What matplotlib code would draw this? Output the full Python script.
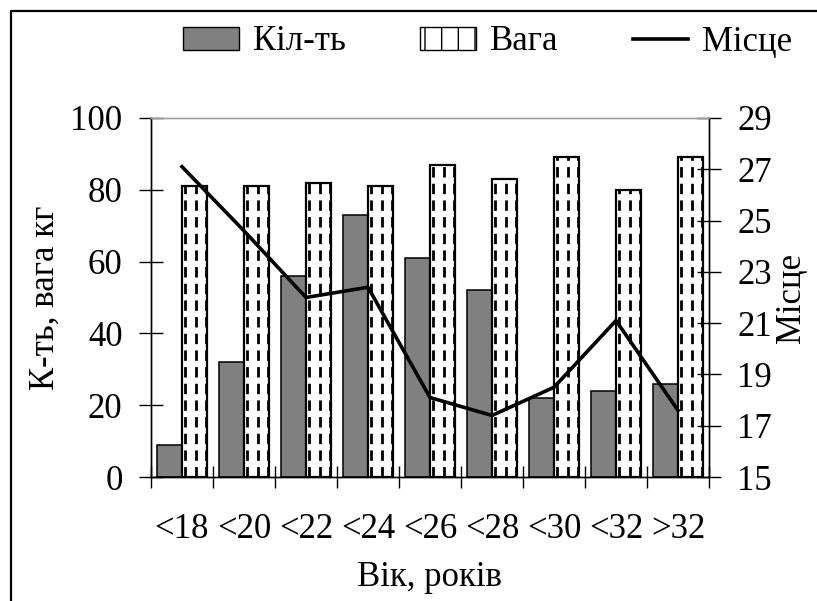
import matplotlib
matplotlib.use("Agg")
import matplotlib.pyplot as plt
import numpy as np
from matplotlib.patches import Patch
from matplotlib.lines import Line2D

plt.rcParams['font.family'] = ['Liberation Serif', 'DejaVu Serif']
plt.rcParams['lines.scale_dashes'] = False

categories = ['<18', '<20', '<22', '<24', '<26', '<28', '<30', '<32', '>32']
count = [9, 32, 56, 73, 61, 52, 22, 24, 26]
weight = [81, 81, 82, 81, 87, 83, 89, 80, 89]
place = [27.1, 24.6, 22.0, 22.4, 18.1, 17.4, 18.5, 21.1, 17.6]

FS = 25
fig = plt.figure(figsize=(8.17, 6.01), dpi=100)
ax = fig.add_axes([0.1848, 0.2063, 0.8678 - 0.1848, 0.8037 - 0.2063])
ax2 = ax.twinx()

x = np.arange(len(categories))
w = 0.4
ax.bar(x - w / 2, count, width=w, color='#808080', edgecolor='black', linewidth=1.1, zorder=2)
hb = ax.bar(x + w / 2, weight, width=w, color='white', edgecolor='black', linewidth=1.6, zorder=2)
for i, rect in enumerate(hb):
    for off in (0.05, 0.22, 0.385):
        ln = ax.vlines(i + off, 0, weight[i], colors='black', linewidth=2.0,
                       linestyles=[(0, (7.5, 4.5))], zorder=3)
        ln.set_clip_path(rect)

ax.set_xlim(-0.5, len(categories) - 0.5)
ax.set_ylim(0, 100)
ax.set_yticks([0, 20, 40, 60, 80, 100])
ax.set_xticks(np.arange(-0.5, len(categories), 1.0))
ax.set_xticklabels([])
ax.set_xticks(x, minor=True)
ax.set_xticklabels(categories, minor=True, fontsize=FS)
ax.tick_params(axis='x', which='major', direction='inout', length=16, width=1.0)
ax.tick_params(axis='x', which='minor', length=0, pad=26)
ax.tick_params(axis='y', direction='inout', length=17, width=1.0, labelsize=FS, pad=12)
ax.set_xlabel('Вік, років', fontsize=FS, labelpad=11)
ax.set_ylabel('К-ть, вага кг', fontsize=FS, labelpad=6)

ax2.plot(x, place, color='black', linewidth=2.6, zorder=4)
ax2.set_ylim(15, 29)
ax2.set_yticks(np.arange(15, 30, 2))
ax2.tick_params(axis='y', direction='inout', length=17, width=1.0, labelsize=FS, pad=12)
ax2.set_ylabel('Місце', fontsize=FS, labelpad=2)

for a in (ax, ax2):
    a.spines['top'].set_color('#a0a0a0')
    a.spines['top'].set_linewidth(1.0)
    for s in ('left', 'right', 'bottom'):
        a.spines[s].set_linewidth(1.0)
ax2.patch.set_visible(False)

handles = [Patch(facecolor='#808080', edgecolor='black', linewidth=1.0),
           Patch(facecolor='white', edgecolor='black', hatch='|', linewidth=1.0),
           Line2D([], [], color='black', linewidth=2.6)]
fig.legend(handles, ['Кіл-ть', 'Вага', 'Місце'], loc='center', bbox_to_anchor=(0.597, 1 - 42 / 601),
           ncol=3, frameon=False, fontsize=FS, handlelength=1.6, handleheight=0.65,
           handletextpad=0.4, columnspacing=2.15, borderaxespad=0)

fig.add_artist(Line2D([11 / 817, 11 / 817, 1.2], [-0.2, 1 - 11 / 601, 1 - 11 / 601],
                      transform=fig.transFigure, color='black', linewidth=1.6))

fig.savefig('out.png', dpi=100)
